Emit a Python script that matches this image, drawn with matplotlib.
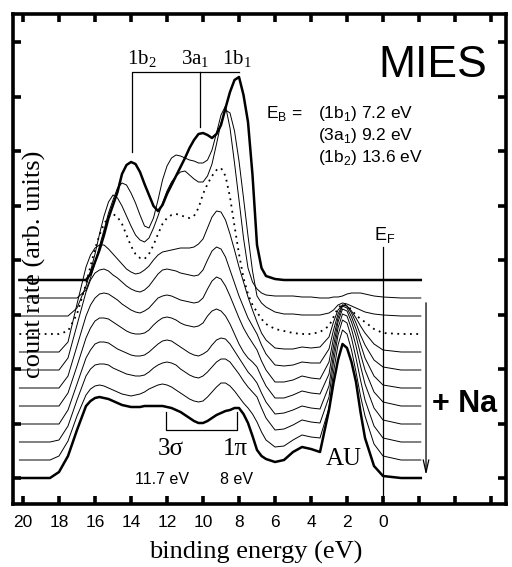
import numpy as np
import matplotlib.pyplot as plt

plt.rcParams['font.family'] = ['Liberation Sans', 'DejaVu Sans']
plt.rcParams['mathtext.fontset'] = 'custom'
plt.rcParams['mathtext.rm'] = 'Liberation Serif'
plt.rcParams['mathtext.sf'] = 'Liberation Sans'

W, H = 512, 567

# binding energy grid (eV)
energy = [20.2, 19.0, 18.5, 18.0, 17.5, 17.0,
          16.5, 16.25, 16.0, 15.75, 15.5, 15.25, 15.0, 14.75, 14.5, 14.25, 14.0,
          13.75, 13.5, 13.25, 13.0, 12.75, 12.5, 12.25, 12.0, 11.75, 11.5, 11.25,
          11.0, 10.75, 10.5, 10.25, 10.0, 9.75, 9.5, 9.25, 9.0, 8.75, 8.5, 8.25,
          8.0, 7.75, 7.5, 7.25, 7.0, 6.75, 6.5,
          6.0, 5.5, 5.0, 4.5, 4.0, 3.5, 3.0, 2.75, 2.5, 2.25, 2.0, 1.75, 1.5,
          1.25, 1.0, 0.5, 0.0, -1.0, -2.1]

# count rate above each spectrum's own baseline (arb. units)
# s00 = highest Na exposure (bottom), s11 = clean water layer (top)
s00 = [0, 0, 0, 6, 22, 48,
       72, 77, 80, 81, 80, 79, 77, 75, 73, 72, 71, 71, 71, 72, 72, 72, 72, 72, 71, 70,
       68, 66, 63, 60, 57, 55, 55, 57, 60, 63, 65, 67, 68, 70, 70, 64, 55, 42, 28, 22, 19,
       16, 18, 26, 31, 29, 26, 68, 95, 118, 134, 130, 116, 96, 66, 40, 12, 2, 0, 0]
s01 = [0, 0, 0, 4, 19, 44,
       65, 71, 74, 75, 74, 72, 70, 68, 66, 65, 64, 65, 66, 68, 71, 73, 75, 76, 75, 73,
       70, 67, 64, 61, 59, 58, 59, 63, 68, 73, 77, 77, 74, 69, 63, 57, 52, 46, 38, 28, 20,
       13, 14, 20, 25, 23, 22, 52, 88, 115, 130, 126, 110, 88, 64, 44, 16, 4, 0, 0]
s02 = [0, 0, 0, 2, 16, 42,
       66, 73, 77, 78, 78, 77, 74, 72, 70, 68, 67, 66, 66, 67, 70, 74, 77, 79, 80, 79,
       77, 73, 70, 67, 65, 64, 66, 70, 75, 80, 83, 83, 80, 74, 68, 61, 55, 50, 45, 34, 24,
       12, 13, 17, 22, 20, 19, 45, 80, 107, 122, 119, 104, 84, 62, 42, 16, 4, 0, 0]
s03 = [0, 0, 0, 0, 14, 40,
       66, 74, 80, 82, 82, 81, 78, 75, 73, 71, 69, 68, 68, 69, 72, 76, 80, 83, 84, 83,
       80, 77, 74, 71, 69, 68, 70, 73, 79, 84, 86, 85, 80, 73, 66, 59, 52, 47, 41, 31, 22,
       10, 11, 14, 18, 16, 15, 38, 70, 96, 110, 108, 95, 78, 58, 40, 16, 4, 0, 0]
s04 = [0, 0, 0, 0, 13, 40,
       68, 78, 85, 88, 88, 87, 84, 81, 78, 75, 73, 72, 72, 73, 76, 81, 85, 88, 89, 88,
       86, 83, 81, 80, 79, 80, 83, 90, 95, 97, 95, 90, 82, 72, 62, 54, 48, 44, 39, 29, 20,
       8, 8, 11, 15, 13, 12, 32, 60, 84, 97, 95, 84, 70, 52, 36, 14, 4, 0, 0]
s05 = [0, 0, 0, 0, 12, 42,
       72, 83, 90, 94, 95, 94, 91, 88, 84, 81, 78, 76, 75, 77, 80, 85, 90, 92, 93, 92,
       90, 88, 87, 86, 85, 86, 90, 99, 107, 111, 109, 102, 92, 81, 70, 60, 52, 45, 38, 27, 18,
       6, 6, 8, 12, 10, 9, 26, 50, 70, 82, 80, 71, 59, 44, 30, 12, 3, 0, 0]
s06 = [0, 0, 0, 0, 12, 45,
       78, 90, 97, 100, 101, 99, 95, 92, 88, 84, 81, 79, 78, 80, 84, 90, 96, 100, 101, 100,
       99, 97, 96, 95, 94, 95, 100, 110, 119, 123, 121, 113, 100, 87, 74, 63, 52, 44, 36, 25, 16,
       5, 4, 5, 8, 7, 7, 21, 40, 56, 65, 64, 57, 47, 35, 25, 10, 3, 0, 0]
s07 = [0, 0, 0, 0, 10, 48,
       85, 97, 104, 107, 107, 103, 98, 93, 88, 83, 80, 78, 79, 82, 86, 92, 97, 100, 101, 102,
       103, 104, 104, 104, 105, 108, 113, 124, 135, 141, 140, 132, 118, 102, 85, 70, 55, 42, 30, 19, 12,
       4, 3, 3, 5, 4, 5, 15, 30, 42, 47, 46, 41, 34, 26, 19, 8, 2, 0, 0]
s08 = [0, 0, 0, 0, 3, 20,
       50, 68, 85, 99, 110, 117, 120, 117, 110, 99, 88, 80, 76, 75, 80, 89, 100, 110, 116, 119,
       120, 119, 117, 116, 118, 126, 140, 150, 158, 164, 166, 158, 137, 108, 80, 56, 40, 29, 22, 15, 10,
       5, 3, 1, 0, 0, 2, 8, 17, 26, 30, 29, 24, 19, 15, 12, 5, 1, 0, 0]
s09 = [0, 0, 0, 0, 0, 8,
       30, 45, 62, 82, 100, 114, 121, 118, 110, 100, 90, 81, 76, 74, 78, 88, 100, 113, 125, 134,
       140, 144, 145, 141, 137, 134, 134, 140, 152, 172, 193, 206, 203, 185, 155, 118, 80, 45, 20, 13, 9,
       4, 2, 2, 1, 1, 1, 3, 6, 11, 13, 12, 10, 8, 6, 4, 2, 1, 0, 0]
s10 = [0, 0, 0, 0, 0, 0,
       8, 20, 35, 52, 68, 85, 98, 110, 115, 113, 105, 95, 83, 72, 70, 80, 98, 118, 132, 140,
       143, 142, 140, 138, 137, 135, 135, 138, 148, 165, 183, 192, 170, 135, 98, 60, 30, 16, 9, 5, 3,
       2, 2, 2, 1, 1, 0, 0, 1, 1, 2, 4, 5, 5, 5, 4, 2, 1, 0, 0]
s11 = [0, 0, 0, 0, 0, 0,
       0, 6, 18, 30, 45, 62, 75, 88, 106, 115, 118, 116, 108, 96, 85, 74, 69, 75, 86, 95,
       104, 113, 122, 132, 140, 146, 147, 145, 142, 146, 155, 172, 188, 200, 203, 185, 158, 105, 35, 12, 4,
       1, 0, 0, 0, 0, 0, 0, 0, 0, 0, 0, 0, 0, 0, 0, 0, 0, 0, 0]

spectra = [s00, s01, s02, s03, s04, s05, s06, s07, s08, s09, s10, s11]
OFFSET = 18

x_ticks = [20, 18, 16, 14, 12, 10, 8, 6, 4, 2, 0, -2, -4, -6]
x_ticklabels = ['20', '18', '16', '14', '12', '10', '8', '6', '4', '2', '0', '', '', '']


def fpos(x, y):
    # pixel position -> figure fraction
    return x / W, 1 - y / H


def main() -> None:
    fig = plt.figure(figsize=(W / 100, H / 100), dpi=100)
    ax = fig.add_axes([13 / W, 1 - 504 / H, (506 - 13) / W, (504 - 14) / H])

    for k, s in enumerate(spectra):
        y = np.array(s) + k * OFFSET
        if k in (0, len(spectra) - 1):
            ax.plot(energy, y, color='black', lw=1.8, solid_joinstyle='round')
        elif k == 8:
            ax.plot(energy, y, color='black', lw=1.3, ls=(0, (1, 2.5)))
        else:
            ax.plot(energy, y, color='black', lw=0.7, solid_joinstyle='round')

    ax.set_xlim(20.556, -6.833)
    ax.set_ylim(-26, 464)

    ax.set_xticks(x_ticks)
    ax.set_xticklabels(x_ticklabels)
    ax.set_yticks(np.arange(9) * 54.5)
    ax.set_yticklabels([])
    ax.tick_params(direction='in', top=True, right=True, width=2.6, length=6,
                   labelsize=12.5, pad=8)
    for sp in ax.spines.values():
        sp.set_linewidth(2.6)

    # orbital markers (water)
    ax.plot([13.94, 13.94, 8.0], [326, 406, 406], color='black', lw=0.9)
    ax.plot([10.17, 10.17], [406, 351], color='black', lw=0.9)
    # 3sigma / 1pi bracket
    ax.plot([12.06, 12.06, 8.11, 8.11], [66, 48, 48, 66], color='black', lw=0.9)
    # Fermi level
    ax.plot([0, 0], [231, -26], color='black', lw=0.9)
    # Na dosing arrow
    ax.annotate('', xy=(-2.39, 0), xytext=(-2.39, 178),
                arrowprops=dict(arrowstyle='->,head_length=0.9,head_width=0.2',
                                color='black', lw=0.9))

    serif = 'Liberation Serif'
    fig.text(*fpos(142, 64), '1b$_{\\mathrm{2}}$', family=serif, fontsize=15,
             ha='center', va='baseline')
    fig.text(*fpos(195, 64), '3a$_{\\mathrm{1}}$', family=serif, fontsize=15,
             ha='center', va='baseline')
    fig.text(*fpos(237, 64), '1b$_{\\mathrm{1}}$', family=serif, fontsize=15,
             ha='center', va='baseline')

    fig.text(*fpos(487, 77), 'MIES', fontsize=32, ha='right', va='baseline')
    fig.text(*fpos(266, 118), 'E$_{\\mathsf{B}}$ =', fontsize=12.5, va='baseline')
    fig.text(*fpos(318, 118), '(1b$_{\\mathsf{1}}$) 7.2 eV', fontsize=12.5, va='baseline')
    fig.text(*fpos(318, 140), '(3a$_{\\mathsf{1}}$) 9.2 eV', fontsize=12.5, va='baseline')
    fig.text(*fpos(318, 162), '(1b$_{\\mathsf{2}}$) 13.6 eV', fontsize=12.5, va='baseline')

    fig.text(*fpos(374, 240), 'E$_{\\mathsf{F}}$', fontsize=13, va='baseline')
    fig.text(*fpos(465, 412), '+ Na', fontsize=22, weight='bold', ha='center',
             va='baseline')
    fig.text(*fpos(344, 465), 'AU', family=serif, fontsize=18, ha='center',
             va='baseline')
    fig.text(*fpos(171, 455), '3σ', family=serif, fontsize=18, ha='center',
             va='baseline')
    fig.text(*fpos(235, 455), '1π', family=serif, fontsize=18, ha='center',
             va='baseline')
    fig.text(*fpos(162, 484), '11.7 eV', fontsize=11.5, ha='center', va='baseline')
    fig.text(*fpos(236, 484), '8 eV', fontsize=11.5, ha='center', va='baseline')

    fig.text(*fpos(256, 552), 'binding energy (eV)', family=serif, fontsize=19,
             ha='center', va='center')
    fig.text(*fpos(34, 264), 'count rate (arb. units)', family=serif, fontsize=19,
             ha='center', va='center', rotation=90)

    fig.savefig('out.png', dpi=100)


if __name__ == '__main__':
    main()
